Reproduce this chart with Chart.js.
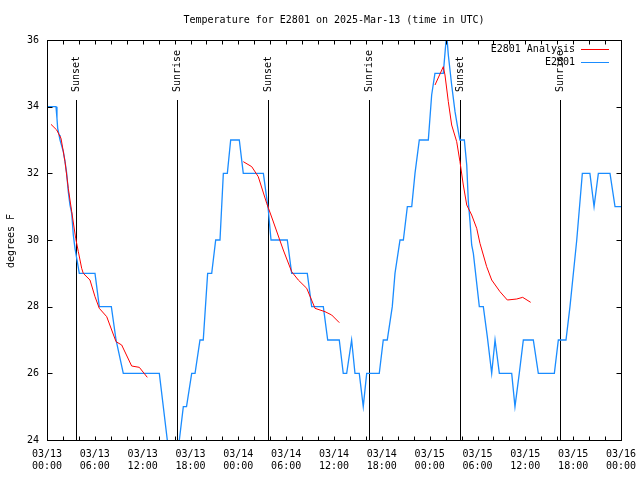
<!DOCTYPE html>
<html>
<head>
<meta charset="utf-8">
<script src="https://cdn.jsdelivr.net/npm/chart.js@4/dist/chart.umd.min.js"></script>
<style>
  html, body { margin: 0; padding: 0; background: #fff; }
  #wrap { width: 640px; height: 480px; }
</style>
</head>
<body>
<div id="wrap"><canvas id="chart" width="640" height="480"></canvas></div>
<script>
// hours since 03/13 00:00 UTC
const obsHours = [0, 1.13, 1.25, 1.34, 1.51, 1.63, 2.05, 2.26, 2.47, 2.67, 2.88, 3.10, 3.30, 3.51, 3.80, 4.05,
  6.02, 6.56, 8.07, 8.66, 9.57, 14.09, 15.09, 15.6, 16.1, 16.6, 17.1, 17.5, 18.15, 18.57, 19.19, 19.6,
  20.15, 20.66, 21.16, 21.7, 22.12, 22.62, 23.04, 24.12, 24.62, 27.14, 27.76, 28.1, 30.14, 30.69, 32.65,
  33.2, 34.66, 35.21, 36.66, 37.16, 37.59, 38.21, 38.63, 39.17, 39.67, 40.1, 41.68, 42.18, 42.68, 43.31,
  43.65, 44.28, 44.7, 45.2, 45.75, 46.16, 46.7, 47.83, 48.25, 48.66, 49.71, 50.13, 50.34, 50.76, 51.18,
  51.6, 51.8, 52.35, 52.65, 52.85, 53.06, 53.27, 53.48, 54.23, 54.73, 55.23, 55.78, 56.2, 56.74, 58.29,
  58.7, 59.24, 59.75, 61.0, 61.63, 63.64, 64.14, 65.1, 65.6, 66.45, 67.15, 68.1, 68.62, 69.16, 70.62,
  71.25, 72];
const obsTemps = [34, 34, 33.65, 33.35, 33.15, 33.0, 32.65, 32.35, 32.0, 31.45, 31.05, 30.8, 30.15, 29.75, 29.35, 29,
  29, 28, 28, 27, 26, 26, 24, 23, 23, 24, 25, 25, 26, 26, 27, 27,
  29, 29, 30, 30, 32, 32, 33, 33, 32, 32, 30.9, 30, 30, 29, 29,
  28, 28, 27, 27, 26, 26, 27, 26, 26, 25, 26, 26, 27, 27, 28,
  29, 30, 30, 31, 31, 32, 33, 33, 34.35, 35, 35, 36.2, 35.55, 34.65, 33.85,
  33.25, 33, 33, 32.25, 31.15, 30.55, 29.85, 29.6, 28, 28, 27.1, 26, 27, 26, 26,
  25, 26, 27, 27, 26, 26, 27, 27, 28, 30, 32, 32, 31, 32, 32,
  31, 31];

// analysis runs, null separates the three runs
const anaHours = [0.50, 1.22, 1.76, 2.26, 2.67, 3.10, 3.60, 3.93, 4.35, 4.55, 5.39, 6.02, 6.56, 7.49, 8.66, 9.37, 10.62, 11.58, 12.58,
  13.0,
  24.62, 25.68, 26.5, 27.56, 28.31, 29.64, 30.69, 31.52, 32.58, 33.62, 34.87, 35.71, 36.67,
  37.0,
  48.67, 49.71, 49.92, 50.34, 50.76, 51.39, 51.8, 52.22, 52.65, 53.27, 53.9, 54.31, 55.15, 55.78, 56.82, 57.74, 58.92, 59.67, 60.67];
const anaTemps = [33.47, 33.3, 33.05, 32.35, 31.55, 30.85, 30.05, 29.65, 29.15, 29.0, 28.8, 28.3, 27.95, 27.7, 26.95, 26.85, 26.22, 26.18, 25.88,
  null,
  32.35, 32.2, 31.9, 31.1, 30.6, 29.7, 29.05, 28.8, 28.55, 27.95, 27.85, 27.75, 27.52,
  null,
  34.65, 35.2, 34.95, 34.15, 33.45, 32.95, 32.35, 31.65, 31.05, 30.75, 30.35, 29.9, 29.2, 28.8, 28.45, 28.2, 28.23, 28.28, 28.13];

const sunHours = [3.64, 16.3, 27.77, 40.44, 51.86, 64.4];
const sunLabels = ['Sunset', 'Sunrise', 'Sunset', 'Sunrise', 'Sunset', 'Sunrise'];

const yTicks = [24, 26, 28, 30, 32, 34, 36];
const seriesNames = ['E2801 Analysis', 'E2801'];
const seriesColors = ['#ff0000', '#1a8cff'];

const FONT = '10px "DejaVu Sans Mono", "Liberation Mono", monospace';

function pts(xs, ys) {
  return xs.map((x, i) => ({ x: x, y: ys[i] }));
}

const gnuplotFrame = {
  id: 'gnuplotFrame',
  beforeDatasetsDraw(chart) {
    const ctx = chart.ctx;
    const a = chart.chartArea;
    const xs = chart.scales.x;
    ctx.save();
    ctx.strokeStyle = '#000';
    ctx.lineWidth = 1;
    ctx.fillStyle = '#000';
    ctx.font = FONT;
    sunHours.forEach((h, i) => {
      const px = Math.round(xs.getPixelForValue(h)) + 0.5;
      ctx.beginPath();
      ctx.moveTo(px, 100);
      ctx.lineTo(px, a.bottom);
      ctx.stroke();
      ctx.save();
      ctx.translate(px, 92);
      ctx.rotate(-Math.PI / 2);
      ctx.textAlign = 'left';
      ctx.textBaseline = 'middle';
      ctx.fillText(sunLabels[i], 0, 0);
      ctx.restore();
    });
    ctx.restore();
  },
  afterDraw(chart) {
    const ctx = chart.ctx;
    const a = chart.chartArea;
    const xs = chart.scales.x;
    const ys = chart.scales.y;
    ctx.save();
    ctx.strokeStyle = '#000';
    ctx.lineWidth = 1;
    const L = Math.round(a.left) + 0.5, R = Math.round(a.right) + 0.5;
    const T = Math.round(a.top) + 0.5, B = Math.round(a.bottom) + 0.5;
    ctx.beginPath();
    // ticks every 2 hours, on both bottom and top
    for (let h = 0; h <= 72; h += 2) {
      const px = Math.round(xs.getPixelForValue(h)) + 0.5;
      ctx.moveTo(px, B); ctx.lineTo(px, B - 4);
      ctx.moveTo(px, T); ctx.lineTo(px, T + 4);
    }
    yTicks.forEach(v => {
      const py = Math.round(ys.getPixelForValue(v)) + 0.5;
      ctx.moveTo(L, py); ctx.lineTo(L + 5, py);
      ctx.moveTo(R, py); ctx.lineTo(R - 5, py);
    });
    ctx.stroke();
    ctx.strokeRect(L, T, R - L, B - T);

    ctx.fillStyle = '#000';
    ctx.font = FONT;
    // title
    ctx.textAlign = 'center';
    ctx.textBaseline = 'middle';
    ctx.fillText('Temperature for E2801 on 2025-Mar-13 (time in UTC)', 334, 20);
    // y axis title
    ctx.save();
    ctx.translate(11, 241);
    ctx.rotate(-Math.PI / 2);
    ctx.fillText('degrees F', 0, 0);
    ctx.restore();
    // legend
    ctx.textAlign = 'right';
    seriesNames.forEach((name, i) => {
      const y = 49 + i * 13;
      ctx.fillStyle = '#000';
      ctx.fillText(name, 575, y);
      ctx.strokeStyle = seriesColors[i];
      ctx.beginPath();
      ctx.moveTo(581, y + 0.5);
      ctx.lineTo(609, y + 0.5);
      ctx.stroke();
    });
    ctx.restore();
  }
};

new Chart(document.getElementById('chart').getContext('2d'), {
  type: 'line',
  data: {
    datasets: [
      {
        label: seriesNames[0],
        data: pts(anaHours, anaTemps),
        borderColor: seriesColors[0],
        borderWidth: 1,
        pointRadius: 0,
        tension: 0,
        spanGaps: false,
        order: 1
      },
      {
        label: seriesNames[1],
        data: pts(obsHours, obsTemps),
        borderColor: seriesColors[1],
        borderWidth: 1.3,
        pointRadius: 0,
        tension: 0,
        order: 2
      }
    ]
  },
  options: {
    responsive: false,
    animation: false,
    layout: { padding: { top: 40, right: 19, left: 0, bottom: 0 } },
    plugins: {
      legend: { display: false },
      title: { display: false },
      tooltip: { enabled: false }
    },
    scales: {
      x: {
        type: 'linear',
        min: 0,
        max: 72,
        grid: { display: false, drawTicks: false },
        border: { display: false },
        afterFit(s) {
          s.height = 40;
          s.paddingLeft = 0;
          s.paddingRight = 0;
        },
        afterBuildTicks(s) {
          s.ticks = [];
          for (let h = 0; h <= 72; h += 6) s.ticks.push({ value: h });
        },
        ticks: {
          autoSkip: false,
          maxRotation: 0,
          padding: 8,
          color: '#000',
          font: { family: '"DejaVu Sans Mono", monospace', size: 10, lineHeight: 1.2 },
          callback: v => {
            const day = 13 + Math.floor(v / 24);
            const hr = v % 24;
            return ['03/' + day, (hr < 10 ? '0' : '') + hr + ':00'];
          }
        }
      },
      y: {
        min: 24,
        max: 36,
        grid: { display: false, drawTicks: false },
        border: { display: false },
        afterFit(s) {
          s.width = 47;
          s.paddingTop = 0;
          s.paddingBottom = 0;
        },
        afterBuildTicks(s) { s.ticks = yTicks.map(v => ({ value: v })); },
        ticks: {
          padding: 8,
          color: '#000',
          font: { family: '"DejaVu Sans Mono", monospace', size: 10 }
        }
      }
    }
  },
  plugins: [gnuplotFrame]
});
</script>
</body>
</html>
